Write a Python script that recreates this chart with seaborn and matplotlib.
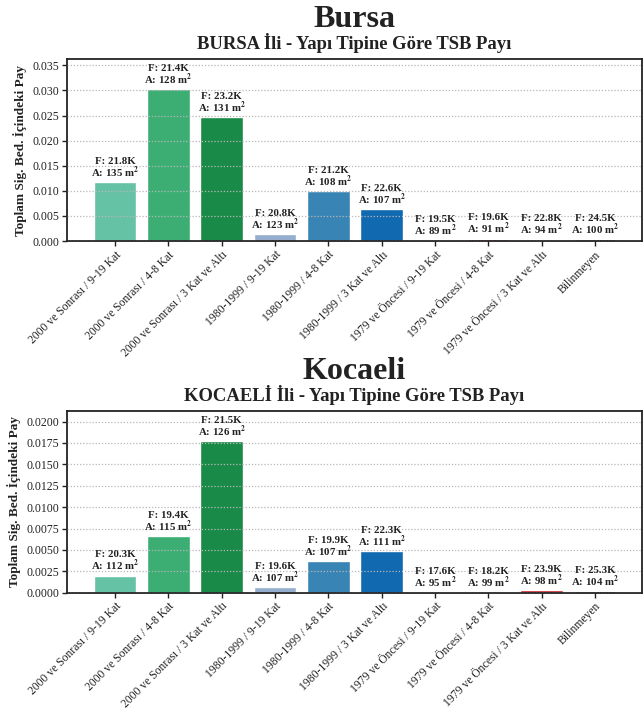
import matplotlib
matplotlib.use("Agg")
import matplotlib.pyplot as plt
from matplotlib.ticker import MultipleLocator, FormatStrFormatter
import seaborn as sns
import pandas as pd

# Building-type categories (construction period / number of floors)
categories = [
    "2000 ve Sonrası / 9-19 Kat",
    "2000 ve Sonrası / 4-8 Kat",
    "2000 ve Sonrası / 3 Kat ve Altı",
    "1980-1999 / 9-19 Kat",
    "1980-1999 / 4-8 Kat",
    "1980-1999 / 3 Kat ve Altı",
    "1979 ve Öncesi / 9-19 Kat",
    "1979 ve Öncesi / 4-8 Kat",
    "1979 ve Öncesi / 3 Kat ve Altı",
    "Bilinmeyen",
]

# Bursa: share of total sum insured, mean premium (K) and mean area (m2)
bursa_share = [0.0117, 0.0302, 0.0247, 0.0014, 0.0099, 0.0064, 0.0002, 0.0005, 0.0003, 0.0004]
bursa_f = [21.8, 21.4, 23.2, 20.8, 21.2, 22.6, 19.5, 19.6, 22.8, 24.5]
bursa_a = [135, 128, 131, 123, 108, 107, 89, 91, 94, 100]

# Kocaeli
kocaeli_share = [0.0020, 0.0066, 0.0177, 0.0007, 0.0037, 0.0049, 0.0001, 0.0001, 0.0003, 0.0002]
kocaeli_f = [20.3, 19.4, 21.5, 19.6, 19.9, 22.3, 17.6, 18.2, 23.9, 25.3]
kocaeli_a = [112, 115, 126, 107, 107, 111, 95, 99, 98, 104]

bar_colors = ["#66c2a5", "#3cae74", "#1a8a48", "#96aecd", "#3884b4",
              "#1169b0", "#d9704a", "#e0533a", "#d21f26", "#808080"]

sns.set_theme(style="white")
plt.rcParams["font.family"] = ["Liberation Serif", "DejaVu Serif"]
plt.rcParams["mathtext.fontset"] = "stix"

fig = plt.figure(figsize=(6.44, 7.12), dpi=100)
ax_top = fig.add_axes([0.104, 0.6615, 0.893, 0.2555])
ax_bot = fig.add_axes([0.104, 0.1676, 0.893, 0.2552])

panels = [
    (ax_top, "Bursa", "BURSA İli - Yapı Tipine Göre TSB Payı",
     bursa_share, bursa_f, bursa_a, 0.005, "%.3f"),
    (ax_bot, "Kocaeli", "KOCAELİ İli - Yapı Tipine Göre TSB Payı",
     kocaeli_share, kocaeli_f, kocaeli_a, 0.0025, "%.4f"),
]

for ax, city, subtitle, share, f_vals, a_vals, step, fmt in panels:
    df = pd.DataFrame({"kategori": categories, "pay": share})
    sns.barplot(data=df, x="kategori", y="pay", hue="kategori",
                palette=bar_colors, legend=False, width=0.8,
                saturation=1, ax=ax)
    ymax = max(share) * 1.2
    ax.set_ylim(0, ymax)
    ax.set_xlim(-0.9, 9.88)
    ax.yaxis.set_major_locator(MultipleLocator(step))
    ax.yaxis.set_major_formatter(FormatStrFormatter(fmt))
    ax.set_axisbelow(False)
    ax.yaxis.grid(True, linestyle=(0, (1, 1.5)), color="#b8b8b8", linewidth=0.9)
    ax.xaxis.grid(False)

    for i, (v, f, a) in enumerate(zip(share, f_vals, a_vals)):
        ax.text(i, v + ymax * 0.012, f"F: {f:.1f}K\nA: {a} m$^\\mathbf{{2}}$",
                ha="center", va="bottom", fontsize=7.8, fontweight="bold",
                linespacing=0.9, color="#222222")

    for side in ["top", "right", "bottom", "left"]:
        ax.spines[side].set_visible(True)
        ax.spines[side].set_color("#222222")
        ax.spines[side].set_linewidth(1.3)

    ax.tick_params(axis="both", which="major", direction="out", length=3.5,
                   width=1, color="#222222", labelsize=8.5, labelcolor="#222222",
                   bottom=True, left=True, pad=2)
    ax.set_xticks(range(len(categories)))
    ax.set_xticklabels(categories, rotation=45, ha="right",
                       rotation_mode="anchor", fontsize=8.4)
    ax.set_xlabel("")
    ax.set_ylabel("Toplam Sig. Bed. İçindeki Pay", fontsize=9.5,
                  fontweight="bold", color="#222222", labelpad=4)
    ax.set_title(subtitle, fontsize=13.4, fontweight="bold", color="#222222", pad=7)
    ax.text(0.5, 1.175, city, transform=ax.transAxes, ha="center",
            va="baseline", fontsize=23, fontweight="bold", color="#222222")

fig.savefig("out.png", dpi=100, facecolor="white")
